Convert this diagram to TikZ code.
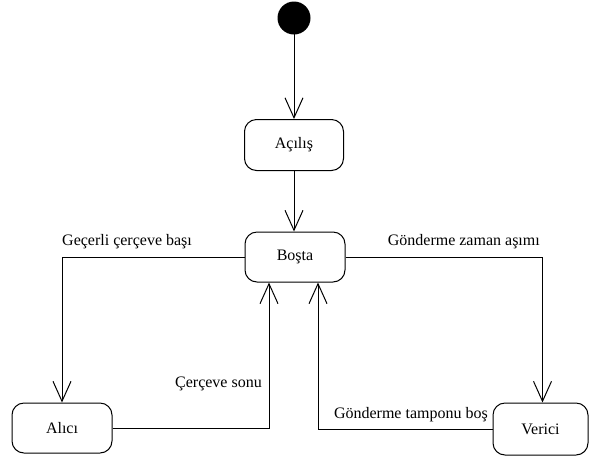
\documentclass[tikz,border=0pt]{standalone}
\usepackage{fontspec}
\setmainfont{Liberation Serif}
\usetikzlibrary{arrows.meta, positioning}

\begin{document}
\begin{tikzpicture}[x=1pt, y=-1pt,
    font=\fontsize{16}{18}\selectfont,
    state/.style={draw, line width=1pt, rounded corners=12pt, minimum width=99pt, minimum height=51pt, inner sep=0pt},
    trans/.style={line width=1pt, -{Straight Barb[length=20pt, width=18pt, line width=1pt]}},
    lbl/.style={inner sep=0pt}
]
\useasboundingbox (0,0) rectangle (589,459);

% States
\fill (294,18) circle (16.5pt);
\coordinate (init) at (294,34);
\node[state] (acilis) at (294,145) {Açılış};
\node[state, minimum width=100pt, minimum height=50pt] (bosta) at (295,257) {Boşta};
\node[state, minimum width=100pt, minimum height=50pt] (alici) at (62,428) {Alıcı};
\node[state, minimum width=95pt, minimum height=52pt] (verici) at (540.5,429) {Verici};

% Transitions
\draw[trans] (init) -- (acilis.north);
\draw[trans] (acilis.south) -- ([xshift=-1pt]bosta.north);
\draw[trans] (bosta.west) -| (alici.north);
\draw[trans] (bosta.east) -| ([xshift=2pt]verici.north);
\draw[trans] (alici.east) -| ([xshift=-26pt]bosta.south);
\draw[trans] (verici.west) -| ([xshift=23pt]bosta.south);

% Labels
\node[lbl, anchor=base west] (lblbasi) at (62,245) {Geçerli çerçeve başı};
\node[lbl, anchor=base east] (lblasimi) at (540,245) {Gönderme zaman aşımı};
\node[lbl, anchor=base east] (lblsonu) at (262,387) {Çerçeve sonu};
\node[lbl, anchor=base east] (lbltampon) at (488,418) {Gönderme tamponu boş};

\end{tikzpicture}
\end{document}
